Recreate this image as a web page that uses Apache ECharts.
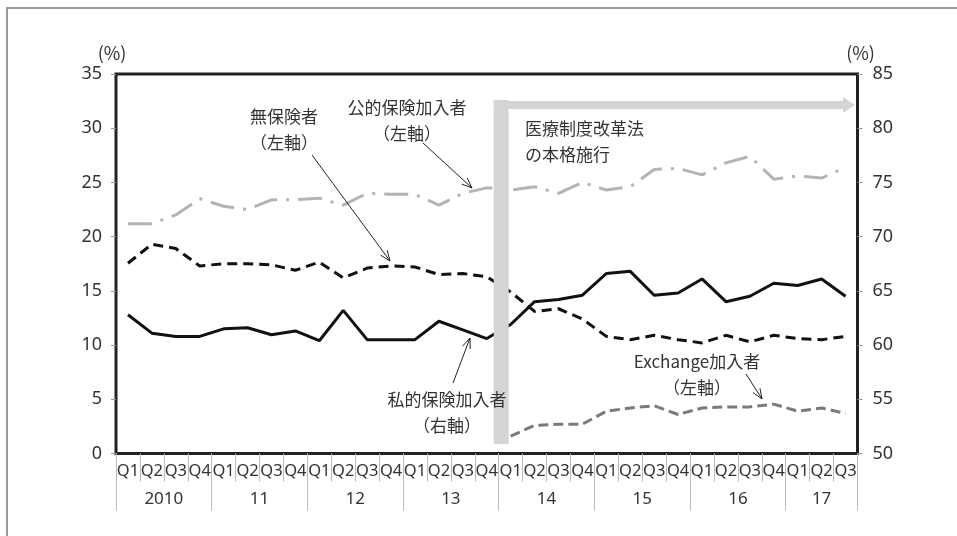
<!DOCTYPE html>
<html>
<head>
<meta charset="utf-8">
<script src="https://cdn.jsdelivr.net/npm/echarts@6.0.0/dist/echarts.min.js"></script>
<style>
html, body { margin: 0; padding: 0; background: #fff; }
#chart { width: 957px; height: 536px; }
</style>
</head>
<body>
<div id="chart"></div>
<script>
var quarters = ['Q1','Q2','Q3','Q4','Q1','Q2','Q3','Q4','Q1','Q2','Q3','Q4','Q1','Q2','Q3','Q4',
                'Q1','Q2','Q3','Q4','Q1','Q2','Q3','Q4','Q1','Q2','Q3','Q4','Q1','Q2','Q3'];
var yearLabels = ['2010', '11', '12', '13', '14', '15', '16', '17'];
var yearBounds = [0, 4, 8, 12, 16, 20, 24, 28, 31];
var yearCenters = [2, 6, 10, 14, 18, 22, 26, 29.5];

// 左軸
var publicIns = [21.2, 21.2, 22.0, 23.5, 22.8, 22.5, 23.4, 23.4, 23.55, 22.9, 24.0, 23.9, 23.9, 22.9, 24.0, 24.5,
                 24.3, 24.6, 24.0, 25.0, 24.3, 24.6, 26.2, 26.3, 25.7, 26.8, 27.4, 25.3, 25.6, 25.4, 26.4];
var uninsured = [17.55, 19.3, 18.9, 17.3, 17.5, 17.5, 17.4, 16.9, 17.65, 16.2, 17.1, 17.3, 17.2, 16.5, 16.6, 16.3,
                 14.9, 13.1, 13.35, 12.4, 10.8, 10.5, 10.9, 10.5, 10.2, 10.9, 10.3, 10.9, 10.6, 10.5, 10.8];
var exchange = [null, null, null, null, null, null, null, null, null, null, null, null, null, null, null, null,
                1.6, 2.6, 2.7, 2.7, 3.9, 4.2, 4.4, 3.6, 4.2, 4.3, 4.3, 4.55, 3.9, 4.2, 3.7];
// 右軸
var privateIns = [62.8, 61.1, 60.8, 60.8, 61.5, 61.6, 60.95, 61.3, 60.4, 63.2, 60.5, 60.5, 60.5, 62.2, 61.4, 60.6,
                  61.9, 64.0, 64.2, 64.6, 66.6, 66.8, 64.6, 64.8, 66.1, 64.0, 64.5, 65.7, 65.5, 66.1, 64.5];

var numFont = '"Liberation Sans Narrow", "Noto Sans", sans-serif';
var jpFont = '"Noto Sans CJK JP", sans-serif';

var chart = echarts.init(document.getElementById('chart'));

var option = {
    backgroundColor: '#fff',
    animation: false,
    grid: {
        left: 116, right: 99.5, top: 74, bottom: 82.5,
        show: true,
        borderColor: '#222',
        borderWidth: 3,
        backgroundColor: 'transparent'
    },
    xAxis: [{
        type: 'category',
        data: quarters,
        boundaryGap: true,
        axisLine: { show: false },
        axisTick: { show: true, interval: 0, length: 28, lineStyle: { color: '#bbb', width: 1 } },
        axisLabel: { interval: 0, margin: 9, color: '#333', fontSize: 16.5, fontFamily: numFont },
        splitLine: { show: false }
    }, {
        type: 'value',
        min: 0, max: 31,
        position: 'bottom',
        axisLine: { show: false },
        axisTick: { show: true, customValues: yearBounds, length: 57, lineStyle: { color: '#bbb', width: 1 } },
        axisLabel: {
            customValues: yearCenters,
            margin: 37,
            color: '#333', fontSize: 17, fontFamily: numFont,
            formatter: function (v) { return yearLabels[yearCenters.indexOf(v)]; }
        },
        splitLine: { show: false }
    }],
    yAxis: [{
        type: 'value',
        min: 0, max: 35, interval: 5,
        name: '(%)',
        nameLocation: 'end',
        nameGap: 12,
        nameTextStyle: { color: '#333', fontSize: 18, fontFamily: jpFont, align: 'center', padding: [0, 8, 0, 0] },
        axisLine: { show: false },
        axisTick: { show: true, length: 5, lineStyle: { color: '#999' } },
        axisLabel: { margin: 14, color: '#333', fontSize: 18, fontFamily: numFont },
        splitLine: { show: false }
    }, {
        type: 'value',
        min: 50, max: 85, interval: 5,
        position: 'right',
        name: '(%)',
        nameLocation: 'end',
        nameGap: 12,
        nameTextStyle: { color: '#333', fontSize: 18, fontFamily: jpFont, align: 'center', padding: [0, 0, 0, 6] },
        axisLine: { show: false },
        axisTick: { show: true, length: 5, lineStyle: { color: '#999' } },
        axisLabel: { margin: 15, color: '#333', fontSize: 18, fontFamily: numFont },
        splitLine: { show: false }
    }],
    series: [{
        name: '公的保険加入者',
        type: 'line',
        yAxisIndex: 0,
        data: publicIns,
        symbol: 'none',
        lineStyle: { color: '#b4b4b4', width: 3, type: [24, 9, 3, 9] }
    }, {
        name: '無保険者',
        type: 'line',
        yAxisIndex: 0,
        data: uninsured,
        symbol: 'none',
        lineStyle: { color: '#111', width: 3, type: [10, 6] }
    }, {
        name: 'Exchange加入者',
        type: 'line',
        yAxisIndex: 0,
        data: exchange,
        symbol: 'none',
        lineStyle: { color: '#7a7a7a', width: 3, type: [10, 5] }
    }, {
        name: '私的保険加入者',
        type: 'line',
        yAxisIndex: 1,
        data: privateIns,
        symbol: 'none',
        lineStyle: { color: '#111', width: 3 }
    }]
};

chart.setOption(option);

// 注記（矢印とテキスト）
function arrow(x1, y1, x2, y2) {
    var dx = x2 - x1, dy = y2 - y1;
    var len = Math.sqrt(dx * dx + dy * dy);
    var ux = dx / len, uy = dy / len;
    var h = 11, a = 0.38;
    var c = Math.cos(a), s = Math.sin(a);
    var p1 = [x2 - h * (ux * c - uy * s), y2 - h * (uy * c + ux * s)];
    var p2 = [x2 - h * (ux * c + uy * s), y2 - h * (uy * c - ux * s)];
    return [{
        type: 'line', z: 20,
        shape: { x1: x1, y1: y1, x2: x2, y2: y2 },
        style: { stroke: '#222', lineWidth: 1 }
    }, {
        type: 'polyline', z: 20,
        shape: { points: [p1, [x2, y2], p2] },
        style: { stroke: '#222', lineWidth: 1, fill: null }
    }];
}

function label(x, y, text, align) {
    return {
        type: 'text', z: 20,
        x: x, y: y,
        style: {
            text: text,
            fill: '#333',
            font: '17px ' + jpFont,
            align: align || 'center',
            verticalAlign: 'top',
            lineHeight: 26
        }
    };
}

var xb = (chart.convertToPixel({ xAxisIndex: 0 }, 15) + chart.convertToPixel({ xAxisIndex: 0 }, 16)) / 2;
var yTop = 100;
var yBottom = 444;

var graphics = [{
    type: 'rect', z: 0, silent: true,
    shape: { x: 7, y: 8, width: 1000, height: 600 },
    style: { stroke: '#999', lineWidth: 2, fill: null }
}, {
    type: 'rect', z: 15,
    shape: { x: xb - 5, y: yTop, width: 15, height: yBottom - yTop },
    style: { fill: '#d4d4d4' }
}, {
    type: 'rect', z: 15,
    shape: { x: xb - 5, y: yTop + 1, width: 843 - xb + 5, height: 8 },
    style: { fill: '#d4d4d4' }
}, {
    type: 'polygon', z: 15,
    shape: { points: [[843, 97], [855, 105], [843, 113]] },
    style: { fill: '#d4d4d4' }
},
    label(284, 104, '無保険者\n（左軸）'),
    label(407, 95, '公的保険加入者\n（左軸）'),
    label(525, 116, '医療制度改革法\nの本格施行', 'left'),
    label(447, 387, '私的保険加入者\n（右軸）'),
    label(697, 349, 'Exchange加入者\n（左軸）')
];
graphics = graphics.concat(arrow(312, 155, 390, 261));
graphics = graphics.concat(arrow(423, 143, 472, 188));
graphics = graphics.concat(arrow(453, 383, 470, 338));
graphics = graphics.concat(arrow(746, 374, 762, 399));

chart.setOption({ graphic: graphics });
</script>
</body>
</html>
